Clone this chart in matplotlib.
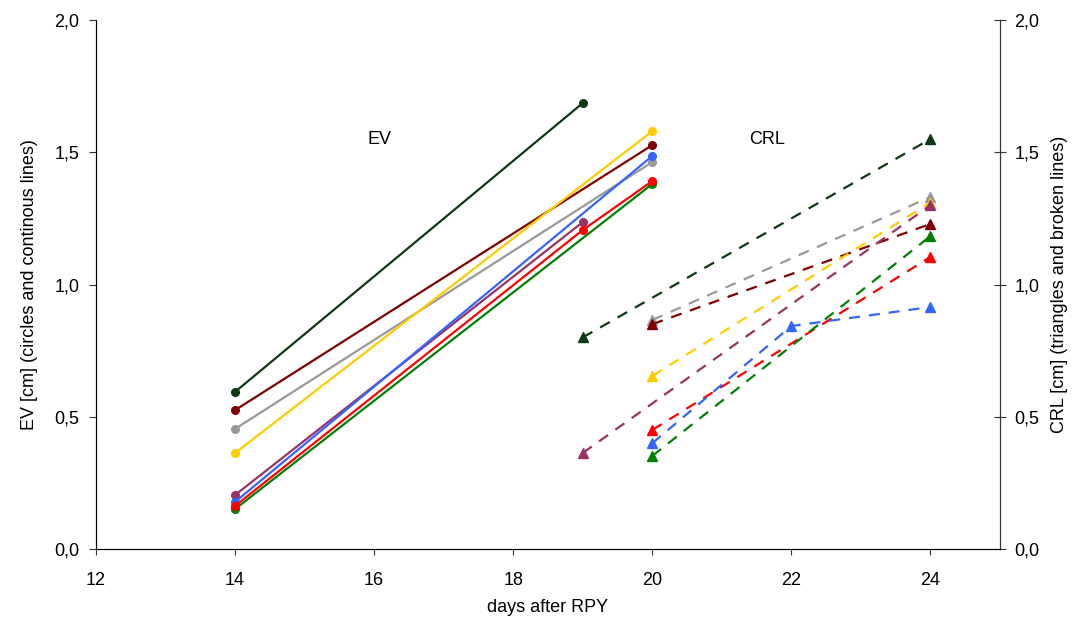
import matplotlib.pyplot as plt
from matplotlib.ticker import FuncFormatter

plt.rcParams['font.family'] = ['Liberation Sans', 'DejaVu Sans']

# EV series (circles, solid lines)
ev_days = {
    'dkgreen': [14, 19],
    'maroon': [14, 20],
    'gray': [14, 20],
    'gold': [14, 20],
    'purple': [14, 19],
    'blue': [14, 20],
    'green': [14, 20],
    'red': [14, 19, 20],
}
ev_vals = {
    'dkgreen': [0.594, 1.686],
    'maroon': [0.525, 1.527],
    'gray': [0.454, 1.463],
    'gold': [0.363, 1.580],
    'purple': [0.204, 1.236],
    'blue': [0.178, 1.486],
    'green': [0.151, 1.38],
    'red': [0.163, 1.206, 1.391],
}

# CRL series (triangles, broken lines)
crl_days = {
    'dkgreen': [19, 24],
    'gray': [20, 24],
    'maroon': [20, 24],
    'gold': [20, 24],
    'purple': [19, 24],
    'red': [20, 24],
    'blue': [20, 22, 24],
    'green': [20, 24],
}
crl_vals = {
    'dkgreen': [0.80, 1.55],
    'gray': [0.866, 1.331],
    'maroon': [0.85, 1.229],
    'gold': [0.654, 1.31],
    'purple': [0.363, 1.30],
    'red': [0.45, 1.104],
    'blue': [0.40, 0.843, 0.915],
    'green': [0.352, 1.183],
}

colors = {
    'dkgreen': '#0d3a12',
    'maroon': '#800000',
    'gray': '#999999',
    'gold': '#FFCC00',
    'purple': '#993366',
    'blue': '#3366FF',
    'green': '#008000',
    'red': '#FF0000',
}

fig = plt.figure(figsize=(10.78, 6.2), dpi=100)
ax = fig.add_axes([96 / 1078, 1 - 549 / 620, 904 / 1078, 529 / 620])

for k in ev_days:
    ax.plot(ev_days[k], ev_vals[k], color=colors[k], lw=1.6, marker='o', ms=5.5)

for k in crl_days:
    ax.plot(crl_days[k], crl_vals[k], color=colors[k], lw=1.6, ls=(0, (5, 4)),
            marker='^', ms=7)

comma = FuncFormatter(lambda v, p: ('%.1f' % v).replace('.', ','))

ax.set_xlim(12, 25)
ax.set_ylim(0, 2)
ax.set_xticks([12, 14, 16, 18, 20, 22, 24])
ax.set_yticks([0, 0.5, 1.0, 1.5, 2.0])
ax.yaxis.set_major_formatter(comma)
ax.tick_params(axis='x', direction='out', length=4.5, labelsize=13,
               colors='#333333', labelcolor='black', pad=12)
ax.tick_params(axis='y', direction='out', length=5, labelsize=13,
               colors='#333333', labelcolor='black', pad=7)
ax.spines['top'].set_visible(False)
for s in ['left', 'bottom', 'right']:
    ax.spines[s].set_color('#333333')

ax.set_xlabel('days after RPY', fontsize=13, labelpad=7)
ax.set_ylabel('EV [cm] (circles and continous lines)', fontsize=13, labelpad=12)

ax2 = ax.twinx()
ax2.set_ylim(0, 2)
ax2.set_yticks([0, 0.5, 1.0, 1.5, 2.0])
ax2.yaxis.set_major_formatter(comma)
ax2.tick_params(direction='inout', length=9, labelsize=13, colors='#333333',
                labelcolor='black', pad=6)
ax2.spines['top'].set_visible(False)
ax2.spines['right'].set_color('#333333')
ax2.set_ylabel('CRL [cm] (triangles and broken lines)', fontsize=13, labelpad=8)

ax.text(16.07, 1.55, 'EV', fontsize=13, ha='center', va='center')
ax.text(21.65, 1.55, 'CRL', fontsize=13, ha='center', va='center')

fig.savefig('out.png', dpi=100)
